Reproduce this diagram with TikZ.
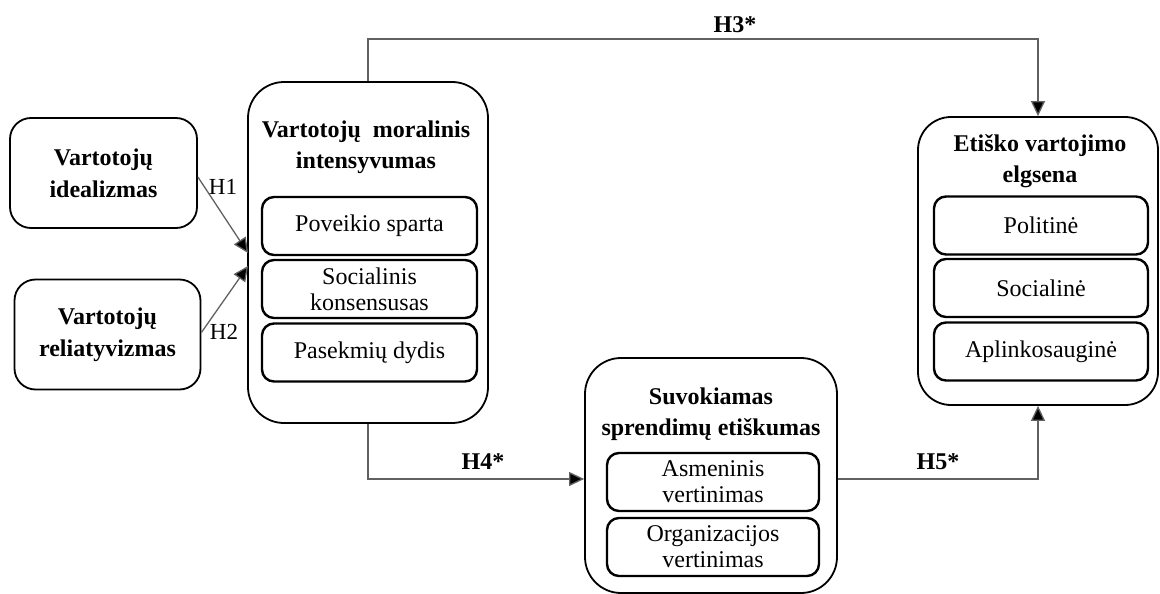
\documentclass[tikz,border=0pt]{standalone}
\usepackage{fontspec}
\setmainfont{Liberation Serif}
\usetikzlibrary{arrows.meta}
\begin{document}
\begin{tikzpicture}[x=1pt,y=-1pt,
  sidebox/.style={draw=black, line width=1.8pt, rounded corners=21pt,
    minimum height=110pt, align=center, inner sep=0pt,
    font=\bfseries\fontsize{24}{32}\selectfont},
  panel/.style={draw=black, line width=1.8pt, rounded corners=36pt,
    inner sep=0pt},
  paneltitle/.style={align=center, inner sep=0pt,
    font=\bfseries\fontsize{24}{31}\selectfont},
  item/.style={draw=black, line width=2.4pt, rounded corners=12pt,
    minimum height=58pt, align=center, inner sep=0pt,
    font=\fontsize{24}{26}\selectfont},
  link/.style={draw=black!62, line width=1.3pt,
    -{Triangle[length=15pt,width=14pt,fill=black]}},
  hyp/.style={inner sep=0pt, font=\bfseries\fontsize{24}{24}\selectfont},
  hlabel/.style={inner sep=0pt, font=\fontsize{23}{23}\selectfont}
]
\useasboundingbox (0,0) rectangle (1160,594);

% left-hand antecedents
\node[sidebox, minimum width=187pt] (idea) at (103.5,173)
  {Vartotojų\\idealizmas};
\node[sidebox, minimum width=186pt] (rel) at (107.5,334.5)
  {Vartotojų\\reliatyvizmas};

% moral intensity panel
\node[panel, minimum width=240pt, minimum height=341pt] (mor) at (368,252.5) {};
\node[paneltitle] (mortitle) at (366,147.5) {Vartotojų~ moralinis\\intensyvumas};
\node[item, minimum width=215pt] (speed) at (369.5,226) {Poveikio sparta};
\node[item, minimum width=215pt] (cons) at (369.5,289) {Socialinis\\konsensusas};
\node[item, minimum width=215pt] (mag) at (369.5,352.5) {Pasekmių dydis};

% perceived ethicality panel
\node[panel, minimum width=252pt, minimum height=235pt] (judg) at (711,475.5) {};
\node[paneltitle] (judgtitle) at (711,414) {Suvokiamas\\sprendimų etiškumas};
\node[item, minimum width=212pt] (pers) at (713,482) {Asmeninis\\vertinimas};
\node[item, minimum width=212pt] (org) at (713,547) {Organizacijos\\vertinimas};

% ethical consumption behaviour panel
\node[panel, minimum width=240pt, minimum height=288pt, rounded corners=33pt]
  (eth) at (1038,261) {};
\node[paneltitle] (ethtitle) at (1040,161) {Etiško vartojimo\\elgsena};
\node[item, minimum width=214pt] (pol) at (1041,225.5) {Politinė};
\node[item, minimum width=214pt] (soc) at (1041,288) {Socialinė};
\node[item, minimum width=214pt] (env) at (1041,351.5) {Aplinkosauginė};

% hypotheses
\coordinate (h1end) at (248,253);
\coordinate (h2end) at (248,266);
\draw[link] ([yshift=-4pt]idea.east) -- (h1end);
\draw[link] ([yshift=2pt]rel.east) -- (h2end);
\node[hlabel] (h1) at (223,187) {H1};
\node[hlabel] (h2) at (224,332) {H2};

\draw[link] (mor.north) -- ++(0,-42) -| (eth.north);
\node[hyp] (h3) at (735,25) {H3*};

\draw[link] (mor.south) |- ([yshift=-3.5pt]judg.west);
\node[hyp] (h4) at (483,462) {H4*};

\draw[link] ([yshift=-3.5pt]judg.east) -| (eth.south);
\node[hyp] (h5) at (938,462) {H5*};
\end{tikzpicture}
\end{document}
